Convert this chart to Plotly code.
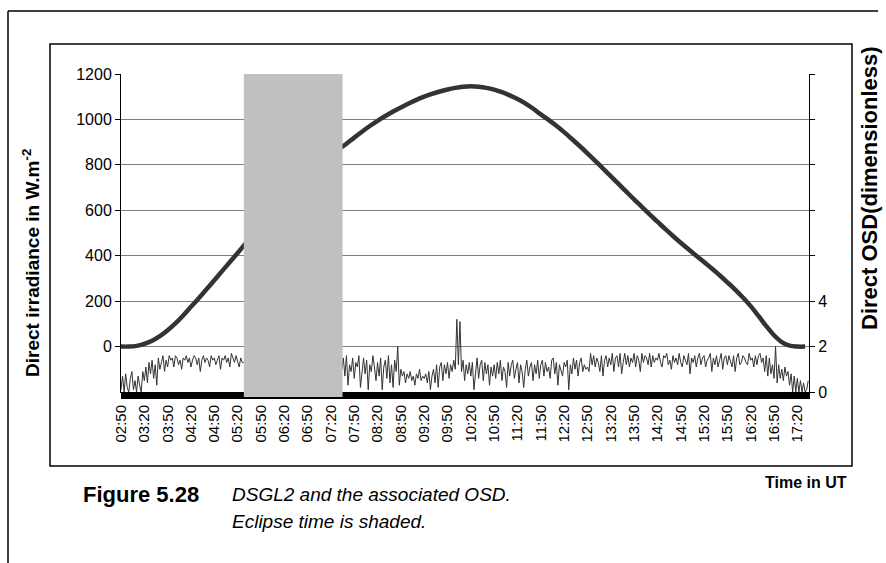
import plotly.graph_objects as go

# ---------------- data ----------------
# Direct irradiance (W/m2), read every 10 minutes from 02:50 to 17:30
irr_start = "02:50"
irr_step_min = 10
irr_values = [
    0, 0, 3, 12, 26, 46, 72, 102, 137, 175,            # 02:50 - 04:20
    213, 252, 292, 332, 372, 412, 453, 493, 533, 572,  # 04:30 - 06:00
    612, 650, 687, 722, 755, 786, 815, 842, 868, 893,  # 06:10 - 07:40
    920, 946, 971, 994, 1015, 1035, 1053, 1070, 1086, 1100,  # 07:50 - 09:20
    1112, 1123, 1132, 1139, 1144, 1146, 1144, 1139, 1131, 1120,  # 09:30 - 11:00
    1106, 1090, 1071, 1048, 1022, 998, 972, 944, 914, 883,  # 11:10 - 12:40
    851, 818, 784, 750, 716, 682, 648, 615, 582, 550,  # 12:50 - 14:20
    518, 487, 457, 428, 400, 372, 344, 314, 283, 251,  # 14:30 - 16:00
    216, 178, 135, 90, 50, 20, 4, 0, 0,                # 16:10 - 17:30
]

# Direct OSD (dimensionless), read every 2 minutes from 02:50
osd_start = "02:50"
osd_step_min = 2
osd_values = [
    0.1, 0.7, 0.0, 0.8, 0.2, 0.0, 0.6, 0.9, 0.1, 0.5, 0.0, 0.7, 0.3, 0.0, 0.9,   # 02:50
    0.5, 1.1, 0.4, 1.3, 0.8, 1.4, 0.6, 1.2, 0.3, 1.5, 1.0, 1.3, 1.6, 0.9, 1.4,   # 03:20
    1.1, 1.6, 1.4, 1.5, 1.1, 1.6, 1.5, 1.2, 1.4, 1.0, 1.5, 1.4, 1.6, 1.3, 1.5,   # 03:50
    1.1, 1.4, 1.6, 1.5, 1.2, 1.5, 0.9, 1.4, 1.6, 1.3, 1.5, 1.4, 1.1, 1.6, 1.4,   # 04:20
    1.5, 1.2, 1.4, 1.6, 1.0, 1.5, 1.4, 1.6, 1.3, 1.5, 1.1, 1.7, 1.5, 1.3, 1.6,   # 04:50
    1.4, 1.1, 1.5, 1.3, 1.3, 1.2, 1.0, 1.1, 0.9, 1.0, 1.1, 0.9, 1.0, 1.2, 1.0,   # 05:20
    1.1, 0.9, 1.0, 1.2, 0.8, 1.0, 1.1, 0.9, 1.0, 1.2, 0.9, 1.1, 1.0, 0.8, 1.0,   # 05:50
    1.0, 1.1, 0.9, 1.0, 1.2, 0.9, 1.0, 1.1, 0.8, 1.0, 1.2, 1.0, 0.9, 1.1, 1.0,   # 06:20
    0.9, 1.0, 1.2, 1.0, 0.8, 1.1, 1.0, 0.9, 1.1, 1.0, 1.2, 0.9, 1.0, 1.1, 0.9,   # 06:50
    1.0, 1.2, 0.9, 1.1, 1.0, 1.2, 0.8, 1.0, 1.5, 0.7, 1.6, 0.3, 1.2, 0.9, 1.5,   # 07:20
    0.6, 1.3, 1.1, 1.6, 0.2, 1.0, 1.5, 0.8, 1.4, 0.1, 1.2, 0.9, 1.6, 1.1, 0.5,   # 07:50
    1.3, 0.7, 1.5, 0.1, 1.1, 1.4, 0.6, 1.6, 0.4, 1.2, 0.2, 1.4, 0.9, 2.0, 0.3,   # 08:20
    1.0, 0.7, 0.9, 0.4, 0.8, 0.6, 0.9, 0.5, 0.7, 0.3, 0.8, 0.6, 1.0, 0.5, 0.7,   # 08:50
    0.6, 0.8, 0.4, 0.9, 0.1, 0.7, 1.0, 0.4, 1.2, 0.2, 1.1, 1.3, 0.5, 1.2, 0.8,   # 09:20
    1.3, 0.6, 1.2, 0.9, 1.4, 1.0, 3.2, 1.2, 3.1, 0.9, 1.4, 0.5, 1.2, 0.8, 1.3,   # 09:50
    0.7, 1.3, 0.1, 0.9, 1.5, 0.6, 1.2, 1.4, 0.5, 1.3, 0.8, 1.2, 0.3, 1.1, 0.7,   # 10:20
    1.2, 0.6, 1.3, 0.8, 1.4, 0.5, 1.1, 0.9, 0.2, 1.3, 0.7, 1.2, 1.4, 0.6, 1.0,   # 10:50
    1.3, 0.4, 1.2, 0.9, 0.2, 1.0, 1.4, 0.7, 1.1, 1.3, 0.5, 1.2, 0.8, 1.4, 0.6,   # 11:20
    1.2, 1.4, 0.7, 1.3, 0.9, 1.1, 0.6, 1.4, 1.5, 0.8, 1.3, 0.3, 1.2, 1.0, 0.7,   # 11:50
    1.3, 1.1, 1.4, 0.1, 1.2, 0.8, 1.5, 1.0, 1.4, 0.7, 1.3, 1.5, 0.9, 1.2, 1.0,   # 12:20
    1.1, 0.9, 1.7, 1.2, 1.6, 1.1, 1.5, 1.3, 0.9, 1.6, 0.7, 1.4, 1.6, 1.1, 1.5,   # 12:50
    1.2, 1.7, 0.9, 1.5, 1.6, 1.1, 1.7, 0.8, 1.3, 1.7, 1.2, 1.6, 1.1, 1.5, 1.3,   # 13:20
    1.7, 1.1, 1.6, 1.4, 0.9, 1.7, 1.3, 1.6, 1.5, 1.2, 1.7, 1.1, 1.6, 1.3, 1.5,   # 13:50
    1.4, 1.7, 1.3, 1.1, 1.6, 1.5, 1.7, 1.2, 1.4, 1.0, 1.6, 1.3, 1.5, 1.2, 1.7,   # 14:20
    1.3, 1.1, 1.6, 1.4, 1.2, 1.7, 0.8, 1.5, 1.3, 1.6, 1.1, 1.5, 1.7, 1.2, 1.5,   # 14:50
    1.6, 1.1, 1.4, 1.5, 1.7, 0.9, 1.5, 1.2, 1.6, 1.1, 1.4, 1.7, 1.0, 1.5, 1.6,   # 15:20
    1.2, 1.6, 1.4, 1.1, 1.6, 0.9, 1.5, 1.7, 1.2, 1.3, 1.6, 1.5, 1.3, 1.2, 1.7,   # 15:50
    1.4, 1.5, 1.1, 1.6, 1.2, 1.6, 1.7, 1.3, 1.5, 0.9, 1.6, 0.7, 1.5, 0.8, 1.2,   # 16:20
    0.6, 2.0, 0.4, 1.2, 0.6, 1.0, 0.5, 1.1, 0.7, 0.9, 0.3, 0.8, 0.0, 0.7, 0.0,   # 16:50
    0.6, 0.0, 0.5, 0.0, 0.4, 0.0, 0.1, 0.5,                                       # 17:20
]

# Eclipse interval (shaded)
eclipse_start = "05:28"
eclipse_end = "07:35"

# x tick labels
tick_labels = ["02:50", "03:20", "03:50", "04:20", "04:50", "05:20", "05:50", "06:20",
               "06:50", "07:20", "07:50", "08:20", "08:50", "09:20", "09:50", "10:20",
               "10:50", "11:20", "11:50", "12:20", "12:50", "13:20", "13:50", "14:20",
               "14:50", "15:20", "15:50", "16:20", "16:50", "17:20"]
left_ticks = [0, 200, 400, 600, 800, 1000, 1200]
right_ticks = [0, 2, 4, 6, 8, 10, 12, 14]
right_tick_text = ["0", "2", "4", " ", " ", " ", " ", " "]


def to_min(s):
    h, m = s.split(":")
    return int(h) * 60 + int(m)


irr_x = [to_min(irr_start) + i * irr_step_min for i in range(len(irr_values))]
osd_x = [to_min(osd_start) + i * osd_step_min for i in range(len(osd_values))]
tick_x = [to_min(s) for s in tick_labels]

X0, X1 = 170, 1055

FONT = "Arial, Liberation Sans, sans-serif"
L, R, T, B = 121, 77, 74, 171
W, H = 886, 563
PW, PH = W - L - R, H - T - B


def xp(px):
    return (px - L) / PW


def yp(py):
    return (H - B - py) / PH


fig = go.Figure()

fig.add_trace(go.Scatter(
    x=irr_x, y=irr_values, mode="lines", line=dict(color="#333333", width=4.5, shape="spline"),
    yaxis="y", showlegend=False, hoverinfo="skip"))

fig.add_trace(go.Scatter(
    x=osd_x, y=osd_values, mode="lines", line=dict(color="#333333", width=1),
    yaxis="y2", showlegend=False, hoverinfo="skip"))

shapes = []
# eclipse shading (covers the tick band just below the axis too)
shapes.append(dict(type="rect", xref="x", yref="paper", x0=to_min(eclipse_start), x1=to_min(eclipse_end),
                   y0=yp(397), y1=1.0, fillcolor="#C0C0C0", line=dict(width=0), layer="above"))
# inner chart frame
shapes.append(dict(type="rect", xref="paper", yref="paper", x0=xp(50), x1=xp(852), y0=yp(466), y1=yp(44),
                   line=dict(color="black", width=1.5), fillcolor="rgba(0,0,0,0)", layer="below"))
# outer frame (left and top)
shapes.append(dict(type="line", xref="paper", yref="paper", x0=xp(8), x1=xp(8), y0=yp(11), y1=yp(570),
                   line=dict(color="black", width=1.5)))
shapes.append(dict(type="line", xref="paper", yref="paper", x0=xp(8), x1=xp(878), y0=yp(11), y1=yp(11),
                   line=dict(color="black", width=1.5)))

NARROW = "Liberation Sans Narrow, Arial Narrow, " + FONT
annotations = [
    dict(text="<b>Direct irradiance in W.m<sup>-2</sup></b>", xref="paper", yref="paper",
         x=xp(31), y=yp(263), xanchor="center", yanchor="middle", textangle=-90, showarrow=False,
         font=dict(family=FONT, size=19, color="black")),
    dict(text="<b>Direct OSD(dimensionless)</b>", xref="paper", yref="paper",
         x=xp(869), y=yp(188), xanchor="center", yanchor="middle", textangle=-90, showarrow=False,
         font=dict(family=FONT, size=22, color="black")),
    dict(text="<b>Time in UT</b>", xref="paper", yref="paper", x=xp(806), y=yp(482),
         xanchor="center", yanchor="middle", showarrow=False,
         font=dict(family=FONT, size=16, color="black")),
    dict(text="<b>Figure 5.28</b>", xref="paper", yref="paper", x=xp(81), y=yp(494),
         xanchor="left", yanchor="middle", showarrow=False, font=dict(family=NARROW, size=22, color="black")),
    dict(text="<i>DSGL2 and the associated OSD.</i>", xref="paper", yref="paper", x=xp(230), y=yp(494),
         xanchor="left", yanchor="middle", showarrow=False, font=dict(family=NARROW, size=19, color="black")),
    dict(text="<i>Eclipse time is shaded.</i>", xref="paper", yref="paper", x=xp(230), y=yp(521),
         xanchor="left", yanchor="middle", showarrow=False, font=dict(family=NARROW, size=19, color="black")),
]

fig.update_layout(
    width=W, height=H, margin=dict(l=L, r=R, t=T, b=B, autoexpand=False),
    paper_bgcolor="white", plot_bgcolor="white",
    font=dict(family=FONT, size=15, color="black"),
    xaxis=dict(range=[X0, X1], tickmode="array", tickvals=tick_x, ticktext=tick_labels, tickangle=-90,
               ticks="outside", ticklen=6, tickcolor="black", showgrid=False, zeroline=False,
               showline=True, linecolor="black", linewidth=1,
               minor=dict(tickmode="linear", tick0=170, dtick=1, ticks="outside", ticklen=6,
                          tickcolor="black", showgrid=False),
               tickfont=dict(family=FONT, size=15)),
    yaxis=dict(range=[-200, 1200], tickmode="array", tickvals=left_ticks, ticks="outside", ticklen=5,
               tickcolor="black", showgrid=True, gridcolor="#7f7f7f", gridwidth=1, zeroline=False,
               showline=True, linecolor="black", linewidth=1, tickfont=dict(family=FONT, size=16)),
    yaxis2=dict(range=[0, 14], overlaying="y", side="right", tickmode="array", tickvals=right_ticks,
                ticktext=right_tick_text, ticks="outside", ticklen=5, tickcolor="black", showgrid=False,
                zeroline=False, showline=True, linecolor="black", linewidth=1,
                tickfont=dict(family=FONT, size=16)),
    shapes=shapes, annotations=annotations,
)

fig.write_html("out.html", config={"displayModeBar": False},
               post_script="document.body.style.margin='0px';")
